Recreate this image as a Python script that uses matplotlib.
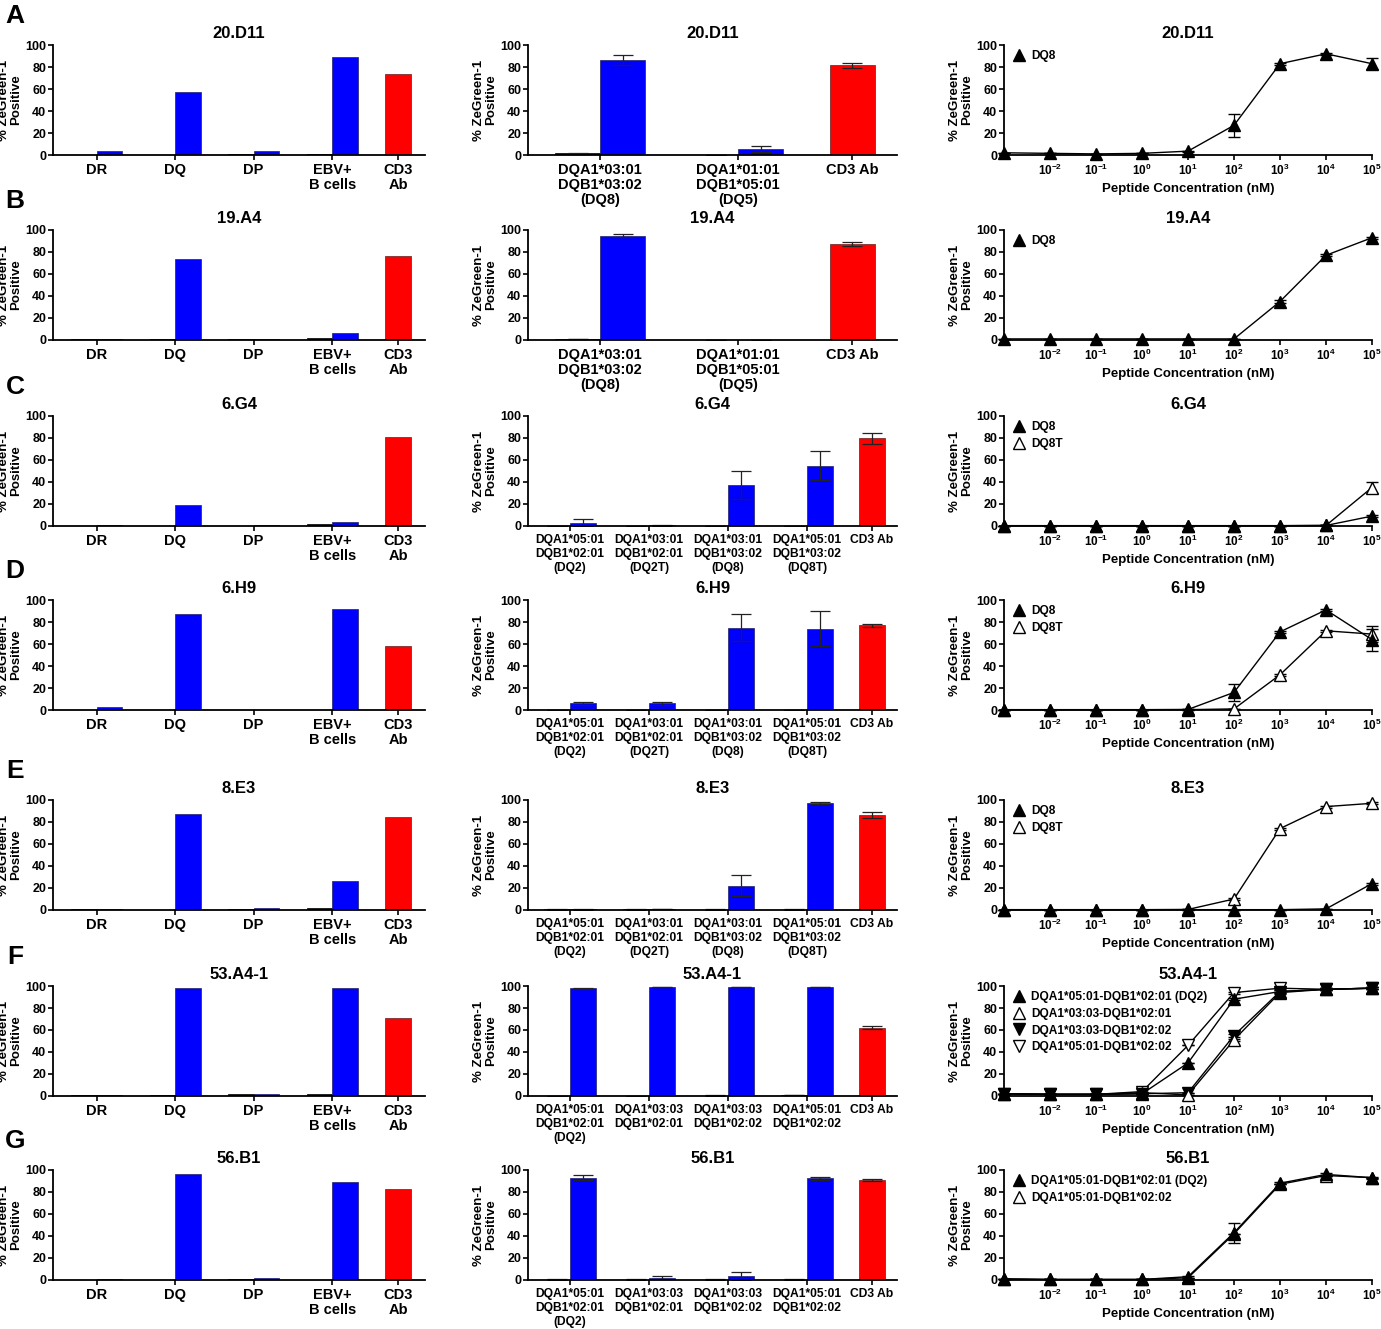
import matplotlib
matplotlib.use('Agg')
import matplotlib.pyplot as plt
from matplotlib.lines import Line2D

plt.rcParams['font.family'] = ['Liberation Sans', 'DejaVu Sans']
plt.rcParams['font.weight'] = 'bold'
plt.rcParams['axes.labelweight'] = 'bold'
plt.rcParams['axes.titleweight'] = 'bold'
plt.rcParams['mathtext.fontset'] = 'custom'
plt.rcParams['mathtext.rm'] = 'Liberation Sans:bold'
plt.rcParams['mathtext.it'] = 'Liberation Sans:bold'
plt.rcParams['mathtext.bf'] = 'Liberation Sans:bold'

# ---------------- data ----------------
clones = ['20.D11', '19.A4', '6.G4', '6.H9', '8.E3', '53.A4-1', '56.B1']
panel_letters = ['A', 'B', 'C', 'D', 'E', 'F', 'G']

# Left column: locus screen (no peptide control vs peptide) + CD3 Ab
locus_labels = ['DR', 'DQ', 'DP', 'EBV+\nB cells', 'CD3\nAb']
locus_ctrl = [
    [0.0, 0.0, 0.5, 0.5],
    [0.5, 0.5, 0.5, 2.0],
    [0.3, 0.3, 0.3, 1.5],
    [0.0, 0.0, 0.0, 0.0],
    [0.5, 0.3, 1.0, 2.0],
    [1.0, 1.0, 1.5, 2.0],
    [0.0, 0.0, 0.5, 0.0],
]
locus_pep = [
    [4.0, 57.0, 4.0, 89.0],
    [0.5, 74.0, 0.5, 6.0],
    [0.5, 19.0, 1.0, 4.0],
    [2.5, 87.0, 0.3, 92.0],
    [0.5, 87.0, 1.5, 26.0],
    [1.0, 98.0, 1.5, 98.0],
    [1.0, 96.0, 1.5, 89.0],
]
locus_cd3 = [74.0, 76.0, 81.0, 58.0, 85.0, 71.0, 83.0]

# Middle column: allele screen
allele_labels_dq8dq5 = ['DQA1*03:01\nDQB1*03:02\n(DQ8)', 'DQA1*01:01\nDQB1*05:01\n(DQ5)', 'CD3 Ab']
allele_labels_dq2dq8 = ['DQA1*05:01\nDQB1*02:01\n(DQ2)', 'DQA1*03:01\nDQB1*02:01\n(DQ2T)',
                        'DQA1*03:01\nDQB1*03:02\n(DQ8)', 'DQA1*05:01\nDQB1*03:02\n(DQ8T)', 'CD3 Ab']
allele_labels_dq2 = ['DQA1*05:01\nDQB1*02:01\n(DQ2)', 'DQA1*03:03\nDQB1*02:01',
                     'DQA1*03:03\nDQB1*02:02', 'DQA1*05:01\nDQB1*02:02', 'CD3 Ab']
allele_label_sets = [allele_labels_dq8dq5, allele_labels_dq8dq5, allele_labels_dq2dq8,
                     allele_labels_dq2dq8, allele_labels_dq2dq8, allele_labels_dq2, allele_labels_dq2]
allele_ctrl = [
    [1.5, 0.0],
    [0.5, 0.0],
    [0.3, 0.3, 0.3, 0.3],
    [0.3, 0.3, 0.3, 0.3],
    [0.8, 0.5, 0.3, 0.3],
    [0.2, 0.2, 0.3, 1.0],
    [0.3, 0.3, 0.3, 0.3],
]
allele_ctrl_err = [
    [0.5, 0.0],
    [0.0, 0.0],
    [0.0, 0.0, 0.0, 0.0],
    [0.0, 0.0, 0.0, 0.0],
    [0.4, 0.3, 0.2, 0.2],
    [0.0, 0.0, 0.2, 0.3],
    [0.2, 0.2, 0.2, 0.2],
]
allele_pep = [
    [86.0, 5.5],
    [95.0, 0.0],
    [3.0, 0.5, 37.5, 55.0],
    [6.0, 6.0, 75.0, 74.0],
    [0.5, 0.8, 22.0, 97.5],
    [98.0, 99.0, 99.0, 99.0],
    [93.0, 2.0, 3.5, 92.5],
]
allele_pep_err = [
    [4.5, 3.0],
    [1.2, 0.0],
    [3.0, 0.3, 12.5, 13.0],
    [1.5, 1.5, 12.0, 16.0],
    [0.3, 0.3, 9.5, 0.7],
    [0.3, 0.2, 0.2, 0.2],
    [2.5, 1.2, 3.5, 1.5],
]
allele_cd3 = [81.5, 87.5, 80.0, 77.0, 86.5, 62.0, 91.0]
allele_cd3_err = [2.5, 2.0, 5.0, 1.5, 2.5, 1.5, 0.8]

# Right column: peptide titration
conc = [1e-3, 1e-2, 1e-1, 1e0, 1e1, 1e2, 1e3, 1e4, 1e5]
conc_ticklabels = ['', '$10^{-2}$', '$10^{-1}$', '$10^{0}$', '$10^{1}$',
                   '$10^{2}$', '$10^{3}$', '$10^{4}$', '$10^{5}$']
dose_names = [
    ['DQ8'],
    ['DQ8'],
    ['DQ8', 'DQ8T'],
    ['DQ8', 'DQ8T'],
    ['DQ8', 'DQ8T'],
    ['DQA1*05:01-DQB1*02:01 (DQ2)', 'DQA1*03:03-DQB1*02:01',
     'DQA1*03:03-DQB1*02:02', 'DQA1*05:01-DQB1*02:02'],
    ['DQA1*05:01-DQB1*02:01 (DQ2)', 'DQA1*05:01-DQB1*02:02'],
]
dose_vals = [
    [[2.0, 1.5, 1.0, 1.5, 3.5, 27.0, 83.0, 92.0, 83.0]],
    [[1.0, 1.0, 1.0, 1.0, 1.0, 1.0, 35.0, 77.0, 93.0]],
    [[0.3, 0.3, 0.3, 0.3, 0.3, 0.3, 0.3, 0.5, 9.0],
     [0.3, 0.3, 0.3, 0.3, 0.3, 0.3, 0.3, 0.5, 35.0]],
    [[0.3, 0.3, 0.3, 0.3, 0.5, 16.0, 71.0, 91.0, 64.0],
     [0.3, 0.3, 0.3, 0.3, 0.3, 1.0, 32.0, 72.0, 69.0]],
    [[0.3, 0.3, 0.3, 0.3, 0.3, 0.3, 0.3, 1.0, 24.0],
     [0.3, 0.3, 0.3, 0.3, 0.5, 10.0, 74.0, 94.0, 97.0]],
    [[2.0, 1.5, 1.5, 2.0, 30.0, 88.0, 95.0, 97.0, 98.0],
     [2.0, 1.5, 1.5, 3.0, 1.0, 51.0, 94.0, 97.0, 98.0],
     [2.0, 1.5, 1.5, 2.0, 3.0, 55.0, 95.0, 97.0, 98.0],
     [2.0, 1.5, 1.5, 4.0, 46.0, 94.0, 98.0, 97.0, 98.0]],
    [[1.0, 0.5, 0.5, 0.5, 3.0, 43.0, 88.0, 96.0, 93.0],
     [1.0, 0.5, 0.5, 0.5, 2.0, 42.0, 87.0, 95.0, 93.0]],
]
dose_err = [
    [[0, 0, 0, 0, 0.5, 10.5, 1.0, 1.0, 5.0]],
    [[0, 0, 0, 0, 0, 0, 1.0, 1.0, 1.0]],
    [[0, 0, 0, 0, 0, 0, 0, 0, 1.0],
     [0, 0, 0, 0, 0, 0, 0, 0, 5.0]],
    [[0, 0, 0, 0, 0, 8.0, 1.0, 1.0, 10.0],
     [0, 0, 0, 0, 0, 0, 1.0, 1.0, 7.0]],
    [[0, 0, 0, 0, 0, 0, 0, 0, 1.0],
     [0, 0, 0, 0, 0, 1.0, 1.0, 1.0, 1.0]],
    [[0, 0, 0, 0, 0, 1.0, 1.0, 1.0, 1.0],
     [0, 0, 0, 0, 0, 1.0, 1.0, 1.0, 1.0],
     [0, 0, 0, 0, 0, 1.0, 1.0, 1.0, 1.0],
     [0, 0, 0, 0, 0, 1.0, 1.0, 1.0, 1.0]],
    [[0, 0, 0, 0, 1.0, 9.0, 1.0, 1.0, 1.0],
     [0, 0, 0, 0, 0, 0, 0, 0, 0]],
]

# ---------------- styles / layout ----------------
BLUE = '#0000FF'
RED = '#FF0000'
series_styles = [('^', 'black'), ('^', 'white'), ('v', 'black'), ('v', 'white')]

W, H = 1381, 1329
fig = plt.figure(figsize=(W / 100, H / 100), dpi=100)

col_x = [(53, 425), (528, 897), (1004, 1372)]
row_top = [45, 230, 416, 600, 800, 986, 1170]
AX_H = 110

# bar layouts (units of one bar width)
layout_left = dict(bounds=[0, 3.08, 6.16, 9.24], cd3=11.82, xlim=(-1.71, 12.88))
layout_mid5 = dict(bounds=[0, 3.04, 6.08, 9.12], cd3=11.62, xlim=(-1.62, 12.58))
layout_mid3 = dict(bounds=[0, 3.07], cd3=5.6, xlim=(-1.6, 6.6))


def make_ax(col, row):
    x0, x1 = col_x[col]
    top = row_top[row]
    return fig.add_axes([x0 / W, 1 - (top + AX_H) / H, (x1 - x0) / W, AX_H / H])


def style_ax(ax):
    for s in ['top', 'right']:
        ax.spines[s].set_visible(False)
    for s in ['left', 'bottom']:
        ax.spines[s].set_linewidth(1.3)
    ax.set_ylim(0, 100)
    ax.set_yticks([0, 20, 40, 60, 80, 100])
    ax.tick_params(axis='y', labelsize=9, length=3.5, width=1.2, pad=1.5)
    ax.tick_params(axis='x', length=3.5, width=1.2, pad=2)
    ax.set_ylabel('% ZeGreen-1\nPositive', fontsize=9.5, labelpad=2, linespacing=1.05)


def bar_panel(ax, lay, ctrl, pep, cd3, labels, fs, ls, ctrl_err=None, pep_err=None, cd3_err=None):
    b = lay['bounds']
    ekw = dict(ecolor='#222222', elinewidth=0.9, capsize=7, capthick=0.9)
    ax.bar([x - 0.5 for x in b], ctrl, width=1, color='black', edgecolor='black', linewidth=0.5,
           yerr=ctrl_err, error_kw=ekw, zorder=2)
    ax.bar([x + 0.5 for x in b], pep, width=1, color=BLUE, edgecolor='#202060', linewidth=0.5,
           yerr=pep_err, error_kw=ekw, zorder=2)
    ax.bar([lay['cd3']], [cd3], width=1, color=RED, edgecolor='#602020', linewidth=0.5,
           yerr=None if cd3_err is None else [cd3_err], error_kw=ekw, zorder=2)
    ax.set_xlim(*lay['xlim'])
    ax.set_xticks(list(b) + [lay['cd3']])
    ax.set_xticklabels(labels, fontsize=fs, linespacing=ls)


for r in range(7):
    # left column
    ax = make_ax(0, r)
    style_ax(ax)
    bar_panel(ax, layout_left, locus_ctrl[r], locus_pep[r], locus_cd3[r], locus_labels, 10.5, 1.1)
    ax.set_title(clones[r], fontsize=12, pad=5)

    # middle column
    ax = make_ax(1, r)
    style_ax(ax)
    if len(allele_pep[r]) == 2:
        lay, fs, ls = layout_mid3, 10.5, 1.1
    else:
        lay, fs, ls = layout_mid5, 8.7, 1.25
    bar_panel(ax, lay, allele_ctrl[r], allele_pep[r], allele_cd3[r], allele_label_sets[r], fs, ls,
              ctrl_err=allele_ctrl_err[r], pep_err=allele_pep_err[r], cd3_err=allele_cd3_err[r])
    ax.set_title(clones[r], fontsize=12, pad=5)

    # right column
    ax = make_ax(2, r)
    style_ax(ax)
    ax.set_xscale('log')
    ax.set_xlim(conc[0], conc[-1])
    handles = []
    n = len(dose_vals[r])
    for i in reversed(range(n)):
        m, fc = series_styles[i]
        ax.errorbar(conc, dose_vals[r][i], yerr=dose_err[r][i], color='black', lw=1.0,
                    marker=m, markersize=9, markerfacecolor=fc, markeredgecolor='black',
                    markeredgewidth=1.0, ecolor='black', elinewidth=0.9, capsize=4,
                    capthick=0.9, clip_on=False, zorder=3 + (n - i))
    for i in range(n):
        m, fc = series_styles[i]
        handles.append(Line2D([], [], linestyle='none', marker=m, markersize=9,
                              markerfacecolor=fc, markeredgecolor='black', markeredgewidth=1.0))
    ax.legend(handles, dose_names[r][:n], loc='upper left', bbox_to_anchor=(0.025, 0.955),
              frameon=False, fontsize=8.6, handlelength=1.0, handletextpad=0.5,
              labelspacing=0.4, borderaxespad=0, borderpad=0)
    ax.set_xticks(conc)
    ax.set_xticklabels(conc_ticklabels, fontsize=8.5)
    ax.xaxis.set_minor_locator(matplotlib.ticker.NullLocator())
    ax.set_xlabel('Peptide Concentration (nM)', fontsize=9.5, labelpad=4)
    ax.set_title(clones[r], fontsize=12, pad=5)

    fig.text(15 / W, 1 - (row_top[r] - 29) / H, panel_letters[r], fontsize=19,
             fontweight='bold', ha='center', va='center')

fig.savefig('out.png', dpi=100)
